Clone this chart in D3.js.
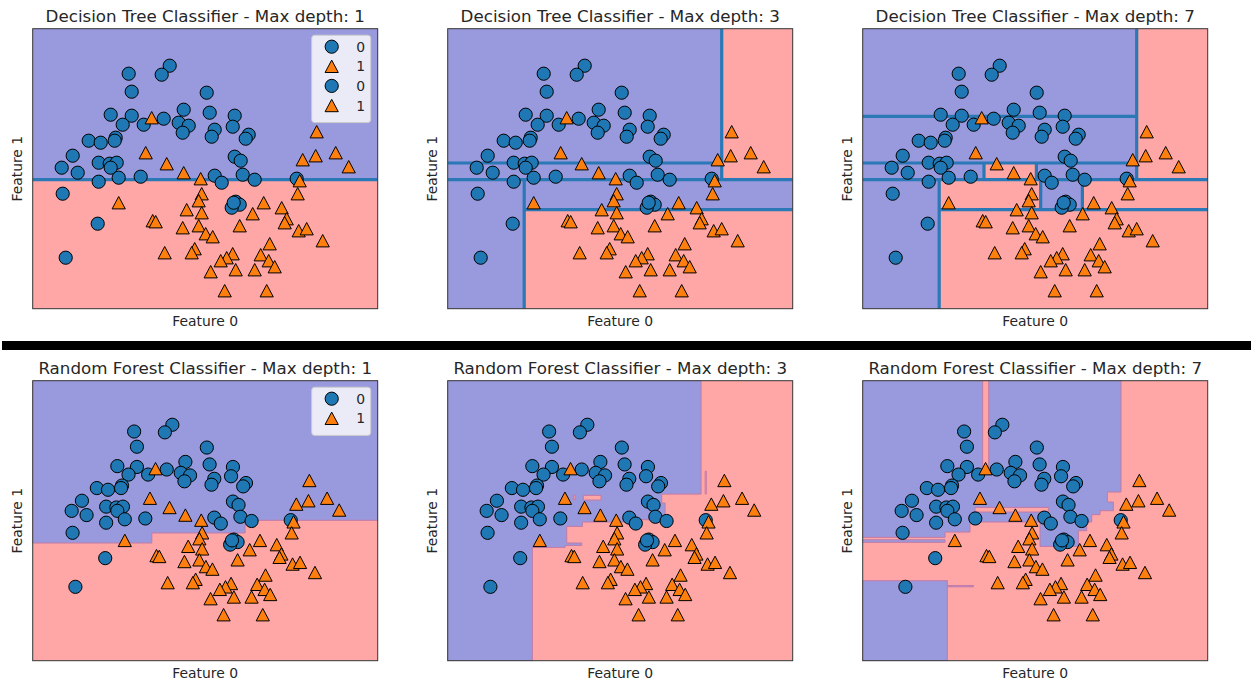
<!DOCTYPE html>
<html><head><meta charset="utf-8">
<script src="https://cdn.jsdelivr.net/npm/d3@7"></script>
<style>body{margin:0;background:#fff}text{font-family:"DejaVu Sans",sans-serif;fill:#262626}</style>
</head><body>
<svg id="fig" width="1256" height="682"></svg>
<script>
// ---- data (feature units, same dataset in every panel) ----
const class0 = [[96,235],[137,243],[129,234],[99,217],[174,216],[78,194],[99,193],[90,184],[111,184],[131,190],[151,199],[146,186],[156,183],[150,176],[177,196],[202,193],[182,179],[179,172],[200,182],[216,174],[213,170],[56,168],[68,166],[83,171],[82,168],[40,153],[29,141],[45,136],[66,146],[77,145],[84,146],[78,141],[66,127],[86,131],[108,132],[202,152],[208,148],[182,133],[189,126],[210,134],[222,129],[264,130],[30,115],[65,85],[33,51],[203,107],[207,104],[199,101],[201,106]];
const class1 = [[119,191],[113,156],[134,145],[151,136],[168,130],[86,106],[169,115],[166,108],[154,99],[169,96],[120,88],[123,87],[150,81],[166,83],[173,75],[180,72],[207,83],[220,95],[231,106],[249,101],[254,90],[252,86],[266,78],[274,80],[290,68],[237,65],[228,54],[236,48],[242,42],[222,39],[200,55],[194,51],[188,48],[203,39],[178,37],[132,56],[162,60],[159,56],[192,18],[234,18],[284,177],[303,156],[283,153],[270,149],[316,142],[267,128],[265,115]];
const depths = [1, 3, 7];
const titlesTop = depths.map(d => "Decision Tree Classifier - Max depth: " + d);
const titlesBot = depths.map(d => "Random Forest Classifier - Max depth: " + d);
const domTop = {x:[0,345], y:[0,280]};
const domBot = {x:[-12.8,357.3], y:[-36.5,295.2]};

// Decision tree leaves: [x0,x1,y0,y1,class]
const treeLeaves1 = [[0,345,129,280,0],[0,345,0,129,1]];
const treeLeaves3 = [[0,274,129,280,0],[274,345,129,280,1],[0,76.5,0,129,0],[76.5,345,99,129,0],[76.5,345,0,99,1]];
const treeLeaves7 = [[0,274,192.3,280,0],[274,345,129,280,1],[0,274,145.7,192.3,0],[0,121.3,129,145.7,0],[121.3,173.7,129,145.7,1],[173.7,274,129,145.7,0],[0,76.5,0,129,0],[76.5,178,99,129,1],[178,219.7,99,129,0],[219.7,345,99,129,1],[76.5,345,0,99,1]];
// Tree splits: [x0,y0,x1,y1]
const treeSplits1 = [[0,129,345,129]];
const treeSplits3 = [[274,129,274,280],[0,145.7,274,145.7],[0,129,345,129],[76.5,0,76.5,129],[76.5,99,345,99]];
const treeSplits7 = [[274,129,274,280],[0,192.3,274,192.3],[0,145.7,274,145.7],[0,129,345,129],[121.3,129,121.3,145.7],[173.7,129,173.7,145.7],[76.5,0,76.5,129],[76.5,99,345,99],[178,99,178,129],[219.7,99,219.7,129]];

// Random forest regions: polygons [class, [[x,y],...]] drawn over class-1 background
const forest1 = [[0,[[-13,296],[358,296],[358,129.8],[215,129.8],[215,114.8],[115,114.8],[115,102.9],[-13,102.9]]]];
const forest3 = [
 [0,[[-13,296],[259,296],[259,160.9],[216.8,160.9],[216.8,150.3],[220.4,150.3],[220.4,130.5],[179.2,130.5],[179.2,127.8],[131.7,127.8],[131.7,122.6],[114.9,122.6],[114.9,102.9],[131,102.9],[131,100.1],[113.1,100.1],[113.1,97.7],[78,97.7],[78,-38],[-13,-38]]],
 [1,[[122,154.2],[123.8,154.2],[123.8,159.4],[122,159.4]]],
 [1,[[132.7,153.8],[151.7,153.8],[151.7,159.4],[132.7,159.4]]],
 [1,[[263.4,161],[264.6,161],[264.6,188],[263.4,188]]]
];
const forest7 = [
 [0,[[-13,296],[264.3,296],[264.3,163.3],[249.7,163.3],[249.7,151.5],[256.1,151.5],[256.1,141.2],[241.8,141.2],[241.8,136.5],[232.9,136.5],[232.9,127.8],[227.5,127.8],[227.5,117.5],[218.6,117.5],[218.6,98.9],[177.4,98.9],[177.4,127.8],[102.3,127.8],[102.3,115.9],[75.5,115.9],[75.5,109.6],[-13,109.6]]],
 [0,[[-13,103.7],[75.5,103.7],[75.5,106.8],[-13,106.8]]],
 [0,[[-13,-38],[78,-38],[78,58.3],[-13,58.3]]],
 [0,[[78,51],[106,51],[106,52.5],[78,52.5]]],
 [1,[[115.9,185.8],[122.4,185.8],[122.4,296],[115.9,296]]],
 [1,[[107.7,139.6],[186.4,139.6],[186.4,145.1],[107.7,145.1]]]
];

// ---- drawing ----
const svg = d3.select("#fig");
const bgCol = ["#9999dd", "#ffa6a6"];
const markCol = ["#1f77b4", "#ff7f0e"];
const panelX = [32.7, 447.7, 862.7], panelW = 345, panelH = 280;
const rowY = [28.7, 380.7];

const triPath = "M0,-6.2L6.6,6.2L-6.6,6.2Z";

function panel(ix, row, title, dom, drawRegions, legendItems) {
  const x0 = panelX[ix], y0 = rowY[row];
  const xs = d3.scaleLinear().domain(dom.x).range([x0, x0 + panelW]);
  const ys = d3.scaleLinear().domain(dom.y).range([y0 + panelH, y0]);
  const id = "clip" + row + ix;
  svg.append("clipPath").attr("id", id).append("rect").attr("x", x0).attr("y", y0).attr("width", panelW).attr("height", panelH);
  const g = svg.append("g").attr("clip-path", `url(#${id})`);
  drawRegions(g, xs, ys);
  const pts = svg.append("g").attr("clip-path", `url(#${id})`);
  pts.selectAll("circle").data(class0).join("circle")
    .attr("cx", d => xs(d[0])).attr("cy", d => ys(d[1])).attr("r", 6.6)
    .attr("fill", markCol[0]).attr("stroke", "#000").attr("stroke-width", 1);
  pts.selectAll("path").data(class1).join("path")
    .attr("d", triPath).attr("transform", d => `translate(${xs(d[0])},${ys(d[1])})`)
    .attr("fill", markCol[1]).attr("stroke", "#000").attr("stroke-width", 1);
  svg.append("rect").attr("x", x0).attr("y", y0).attr("width", panelW).attr("height", panelH)
    .attr("fill", "none").attr("stroke", "#333").attr("stroke-width", 1);
  svg.append("text").attr("x", x0 + panelW / 2).attr("y", y0 - 6.7).attr("text-anchor", "middle")
    .style("font-size", "16.7px").text(title);
  svg.append("text").attr("x", x0 + panelW / 2).attr("y", y0 + panelH + 17.5).attr("text-anchor", "middle")
    .style("font-size", "13.9px").text("Feature 0");
  svg.append("text").attr("transform", `translate(${x0 - 10.5},${y0 + panelH / 2}) rotate(-90)`)
    .attr("text-anchor", "middle").style("font-size", "13.9px").text("Feature 1");
  if (legendItems) {
    const lx = x0 + panelW - 66, ly = y0 + 6.5;
    const lg = svg.append("g");
    lg.append("rect").attr("x", lx).attr("y", ly).attr("width", 59).attr("height", 9 + legendItems.length * 19.6)
      .attr("rx", 3).attr("fill", "#fff").attr("fill-opacity", 0.8).attr("stroke", "#ccc").attr("stroke-width", 1);
    legendItems.forEach((c, i) => {
      const cy = ly + 11.5 + i * 19.6;
      if (c === 0) lg.append("circle").attr("cx", lx + 20).attr("cy", cy).attr("r", 6.6).attr("fill", markCol[0]).attr("stroke", "#000");
      else lg.append("path").attr("d", triPath).attr("transform", `translate(${lx + 20},${cy})`).attr("fill", markCol[1]).attr("stroke", "#000");
      lg.append("text").attr("x", lx + 49).attr("y", cy + 5).attr("text-anchor", "middle").style("font-size", "13.9px").text(String(c));
    });
  }
}

function treeRegions(leaves, splits) {
  return (g, xs, ys) => {
    g.selectAll("rect.leaf").data(leaves).join("rect").attr("class", "leaf")
      .attr("x", d => xs(d[0])).attr("width", d => xs(d[1]) - xs(d[0]))
      .attr("y", d => ys(d[3])).attr("height", d => ys(d[2]) - ys(d[3]))
      .attr("fill", d => bgCol[d[4]]).attr("stroke", d => bgCol[d[4]]).attr("stroke-width", 0.5);
    g.selectAll("line.split").data(splits).join("line").attr("class", "split")
      .attr("x1", d => xs(d[0])).attr("y1", d => ys(d[1])).attr("x2", d => xs(d[2])).attr("y2", d => ys(d[3]))
      .attr("stroke", "#2a78b5").attr("stroke-width", 3.2);
  };
}
function forestRegions(polys) {
  return (g, xs, ys) => {
    g.append("rect").attr("x", xs(domBot.x[0])).attr("y", ys(domBot.y[1]))
      .attr("width", xs(domBot.x[1]) - xs(domBot.x[0])).attr("height", ys(domBot.y[0]) - ys(domBot.y[1])).attr("fill", bgCol[1]);
    const line = d3.line().x(d => xs(d[0])).y(d => ys(d[1]));
    g.selectAll("path.reg").data(polys).join("path").attr("class", "reg")
      .attr("d", d => line(d[1]) + "Z").attr("fill", d => bgCol[d[0]])
      .attr("stroke", "#c27aa6").attr("stroke-width", 1);
  };
}

const treeL = [treeLeaves1, treeLeaves3, treeLeaves7], treeS = [treeSplits1, treeSplits3, treeSplits7];
const forests = [forest1, forest3, forest7];
depths.forEach((d, i) => {
  panel(i, 0, titlesTop[i], domTop, treeRegions(treeL[i], treeS[i]), i === 0 ? [0, 1, 0, 1] : null);
  panel(i, 1, titlesBot[i], domBot, forestRegions(forests[i]), i === 0 ? [0, 1] : null);
});
svg.append("rect").attr("x", 2).attr("y", 341).attr("width", 1249).attr("height", 9).attr("fill", "#000");
</script>
</body></html>
